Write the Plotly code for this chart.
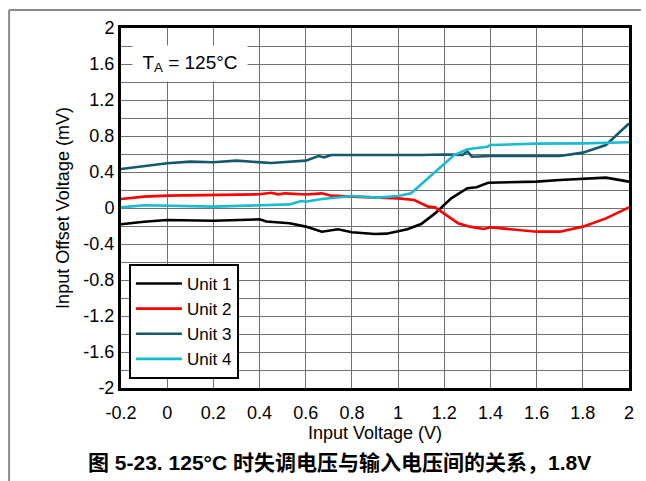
import plotly.graph_objects as go

# ---- data ----
unit1_x = [-0.2, -0.1, 0.0, 0.2, 0.4, 0.43, 0.53, 0.6, 0.67, 0.74, 0.8, 0.9, 0.95, 1.0, 1.04, 1.10, 1.16, 1.23, 1.30, 1.34, 1.39, 1.6, 1.7, 1.9, 2.0]
unit1_y = [-0.18, -0.152, -0.133, -0.141, -0.126, -0.15, -0.17, -0.207, -0.263, -0.237, -0.27, -0.289, -0.285, -0.255, -0.237, -0.178, -0.06, 0.107, 0.22, 0.23, 0.281, 0.293, 0.311, 0.337, 0.293]

unit2_x = [-0.2, -0.1, 0.0, 0.2, 0.4, 0.45, 0.48, 0.51, 0.6, 0.67, 0.71, 0.8, 0.91, 1.0, 1.07, 1.13, 1.16, 1.21, 1.26, 1.31, 1.37, 1.40, 1.6, 1.7, 1.8, 1.9, 2.0]
unit2_y = [0.1, 0.126, 0.137, 0.141, 0.152, 0.17, 0.152, 0.163, 0.15, 0.163, 0.137, 0.126, 0.115, 0.107, 0.089, 0.015, 0.007, -0.078, -0.17, -0.207, -0.233, -0.215, -0.263, -0.263, -0.207, -0.115, 0.007]

unit3_x = [-0.2, 0.0, 0.1, 0.2, 0.3, 0.4, 0.45, 0.6, 0.655, 0.68, 0.71, 0.8, 0.91, 1.0, 1.1, 1.2, 1.28, 1.30, 1.32, 1.4, 1.6, 1.7, 1.8, 1.9, 2.0]
unit3_y = [0.433, 0.497, 0.515, 0.508, 0.526, 0.51, 0.50, 0.526, 0.578, 0.563, 0.589, 0.589, 0.593, 0.589, 0.589, 0.595, 0.59, 0.63, 0.57, 0.578, 0.578, 0.578, 0.615, 0.70, 0.94]

unit4_x = [-0.2, -0.1, 0.2, 0.4, 0.53, 0.58, 0.6, 0.67, 0.8, 0.91, 1.0, 1.056, 1.114, 1.185, 1.243, 1.30, 1.386, 1.4, 1.6, 1.8, 2.0]
unit4_y = [0.007, 0.03, 0.015, 0.033, 0.04, 0.078, 0.07, 0.1, 0.133, 0.115, 0.133, 0.163, 0.293, 0.46, 0.589, 0.652, 0.681, 0.70, 0.715, 0.718, 0.73]

series_names = ["Unit 1", "Unit 2", "Unit 3", "Unit 4"]
series_colors = ["#000000", "#ff0000", "#16586b", "#17bccf"]

x_tick_vals = [-0.2, 0, 0.2, 0.4, 0.6, 0.8, 1, 1.2, 1.4, 1.6, 1.8, 2]
x_tick_text = ["-0.2", "0", "0.2", "0.4", "0.6", "0.8", "1", "1.2", "1.4", "1.6", "1.8", "2"]
y_tick_vals = [-2, -1.6, -1.2, -0.8, -0.4, 0, 0.4, 0.8, 1.2, 1.6, 2]
y_tick_text = ["-2", "-1.6", "-1.2", "-0.8", "-0.4", "0", "0.4", "0.8", "1.2", "1.6", "2"]

FONT = "Arial, Liberation Sans, sans-serif"

fig = go.Figure()
for xs, ys, name, col in zip([unit1_x, unit2_x, unit3_x, unit4_x],
                             [unit1_y, unit2_y, unit3_y, unit4_y],
                             series_names, series_colors):
    fig.add_trace(go.Scatter(x=xs, y=ys, mode="lines", name=name,
                             line=dict(color=col, width=2.6)))

L, R, T, B = 121, 12, 28, 93
W, H = 646, 481
PW, PH = W - L - R, H - T - B


def px(xp):
    return (xp - L) / PW


def py(yp):
    return (H - B - yp) / PH


fig.update_layout(
    width=W, height=H,
    margin=dict(l=L, r=R, t=T, b=B, pad=0),
    paper_bgcolor="white", plot_bgcolor="white",
    font=dict(family=FONT, size=18, color="black"),
    showlegend=True,
    legend=dict(x=px(129), y=py(264), xanchor="left", yanchor="top",
                bgcolor="white", bordercolor="black", borderwidth=2,
                font=dict(size=17, family=FONT), tracegroupgap=0,
                itemwidth=46),
)

fig.update_xaxes(range=[-0.2, 2], tickvals=x_tick_vals, ticktext=x_tick_text,
                 showgrid=True, gridcolor="#707070", gridwidth=1.3,
                 showline=True, linecolor="black", linewidth=3, mirror=True,
                 ticks="outside", ticklen=6, tickcolor="rgba(0,0,0,0)", zeroline=False,
                 title=dict(text="Input Voltage (V)", font=dict(size=18), standoff=4),
                 tickfont=dict(size=18))
fig.update_yaxes(range=[-2, 2], tickvals=y_tick_vals, ticktext=y_tick_text,
                 showgrid=True, gridcolor="#707070", gridwidth=1.3,
                 minor=dict(dtick=0.2, showgrid=True, gridcolor="#707070", gridwidth=1.3, ticks=""),
                 showline=True, linecolor="black", linewidth=3, mirror=True,
                 ticks="", zeroline=False,
                 title=dict(text="Input Offset Voltage (mV)", font=dict(size=18), standoff=10),
                 tickfont=dict(size=18))

# temperature label box
fig.add_annotation(xref="paper", yref="paper", x=px(132), y=py(45),
                   xanchor="left", yanchor="top",
                   text="T<sub>A</sub> = 125°C", showarrow=False,
                   font=dict(size=19, family=FONT), bgcolor="white",
                   width=114, height=35, align="center", borderpad=0)

# caption
fig.add_annotation(xref="paper", yref="paper", x=px(342), y=py(462),
                   xanchor="center", yanchor="middle", showarrow=False,
                   text="<b>图 5-23. 125°C 时失调电压与输入电压间的关系，1.8V</b>",
                   font=dict(size=21, family="Arial, Liberation Sans, Noto Sans CJK SC, sans-serif"))

# page frame lines
fig.add_shape(type="line", xref="paper", yref="paper",
              x0=px(8), x1=px(646), y0=py(10), y1=py(10),
              line=dict(color="#8a8a8a", width=2))
fig.add_shape(type="line", xref="paper", yref="paper",
              x0=px(8), x1=px(8), y0=py(10), y1=py(485),
              line=dict(color="#8a8a8a", width=2))

fig.write_html("out.html", config={"displayModeBar": False},
               post_script="document.body.style.margin='0px';document.body.style.overflow='hidden';")
